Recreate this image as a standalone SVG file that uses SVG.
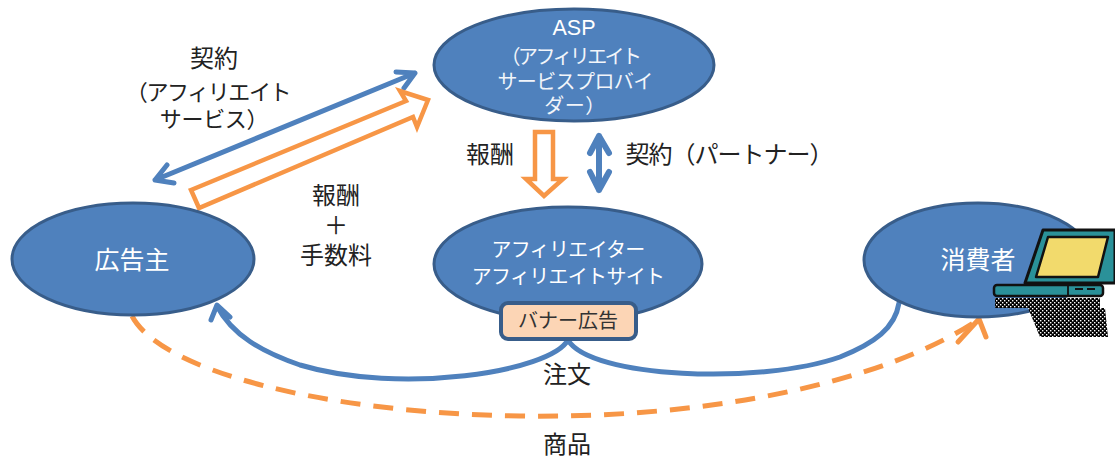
<svg xmlns="http://www.w3.org/2000/svg" width="1115" height="459" viewBox="0 0 1115 459">
<style>
text{font-family:"Liberation Sans","Noto Sans CJK JP",sans-serif;text-anchor:middle}
.k{font-size:24px;fill:#222}
.n{font-size:22px;fill:#222;letter-spacing:-1.4px}
.w{fill:#fff;font-size:25px}
.s{fill:#f2f5fa;font-size:20px;letter-spacing:-.6px}
.a{fill:#fff;font-size:20px;letter-spacing:-.7px}
.e{fill:#4f81bd;stroke:#385d8a;stroke-width:3}
.b{fill:none;stroke:#4f81bd;stroke-width:5;stroke-linecap:round;stroke-linejoin:round}
.o{fill:#fff;stroke:#f79646;stroke-width:4.5}
</style>
<defs>
<pattern id="dots" width="4" height="4" patternUnits="userSpaceOnUse"><rect width="4" height="4" fill="#000"/><rect x="0" y="0" width="1.4" height="1.4" fill="#fff"/><rect x="2" y="2" width="1.4" height="1.4" fill="#fff"/></pattern>
</defs>
<rect width="1115" height="459" fill="#fff"/>
<g id="connectors">
<path class="b" d="M155 180L415 73M174 183L155 180L167 165M396 72L415 73L404 88"/>
<path class="o" d="M191 190L406 101L400 91L428 100L417 127L413 117L199 208Z"/>
<path class="o" d="M535 132H553V179H563L544 196L526 179H535Z" stroke-width="4"/>
<path class="b" d="M599 136V190M590 153L599 136L609 153M590 172L599 190L609 172" style="stroke-width:6"/>
<path class="b" d="M568 340C550 372 400 395 300 365C262 352 232 335 217 306M211 320L217 305L230 317"/>
<path class="b" d="M568 340C590 378 760 385 840 357C875 343 895 328 899 303"/>
<path d="M132 316C160 370 320 413 520 416C700 419 880 385 978 320" fill="none" stroke="#f79646" stroke-width="5" stroke-dasharray="20 13"/>
<path d="M958 342L979 319L986 337" fill="none" stroke="#f79646" stroke-width="5" stroke-linecap="round" stroke-linejoin="round"/>
</g>
<g id="asp"><ellipse class="e" cx="574" cy="65" rx="140" ry="56"/>
<text x="574" y="35" font-size="21.5" fill="#fff">ASP</text>
<text class="s" x="570" y="64" style="letter-spacing:-2.6px">（アフィリエイト</text>
<text class="s" x="575" y="89">サービスプロバイ</text>
<text class="s" x="575" y="113" style="letter-spacing:.5px">ダー）</text></g>
<g id="advertiser"><ellipse class="e" cx="133" cy="259" rx="121" ry="56"/><text class="w" x="132" y="269">広告主</text></g>
<g id="affiliate"><ellipse class="e" cx="568" cy="264" rx="134" ry="57"/>
<text class="a" x="568" y="257">アフィリエイター</text>
<text class="a" x="568" y="284">アフィリエイトサイト</text></g>
<g id="banner"><rect x="501" y="303" width="135" height="36" rx="7" fill="#fcd5b5" stroke="#385d8a" stroke-width="4"/><text x="568" y="328" style="font-size:20px" fill="#333">バナー広告</text></g>
<g id="consumer"><ellipse class="e" cx="978" cy="260" rx="114" ry="57"/><text class="w" x="978" y="269">消費者</text>
<path d="M995 298H1100V308H1105L1108 337H1040L1028 308H995Z" fill="url(#dots)"/>
<path d="M1043 230H1115V283H1025Z" fill="#2a9199" stroke="#111" stroke-width="3" stroke-linejoin="round"/>
<path d="M1048 237H1108L1098 277H1036Z" fill="#f2da6c" stroke="#111" stroke-width="2.5" stroke-linejoin="round"/>
<rect x="994" y="285" width="109" height="11" rx="3" fill="#2a9199" stroke="#111" stroke-width="2.5"/>
<path d="M1068 285V296M1075 289H1083M1087 289H1095" stroke="#111" stroke-width="1.8" fill="none"/></g>
<g id="labels">
<text class="k" x="214" y="67">契約</text>
<text class="n" x="208" y="100">（アフィリエイト</text>
<text class="n" x="214" y="127" style="letter-spacing:-.3px">サービス）</text>
<text class="k" x="336" y="204">報酬</text>
<text class="k" x="336" y="234">＋</text>
<text class="k" x="336" y="264">手数料</text>
<text class="k" x="490" y="163">報酬</text>
<text class="k" x="729" y="163" style="letter-spacing:-1px">契約（パートナー）</text>
<text class="k" x="567" y="383">注文</text>
<text class="k" x="567" y="453">商品</text>
</g>
</svg>
